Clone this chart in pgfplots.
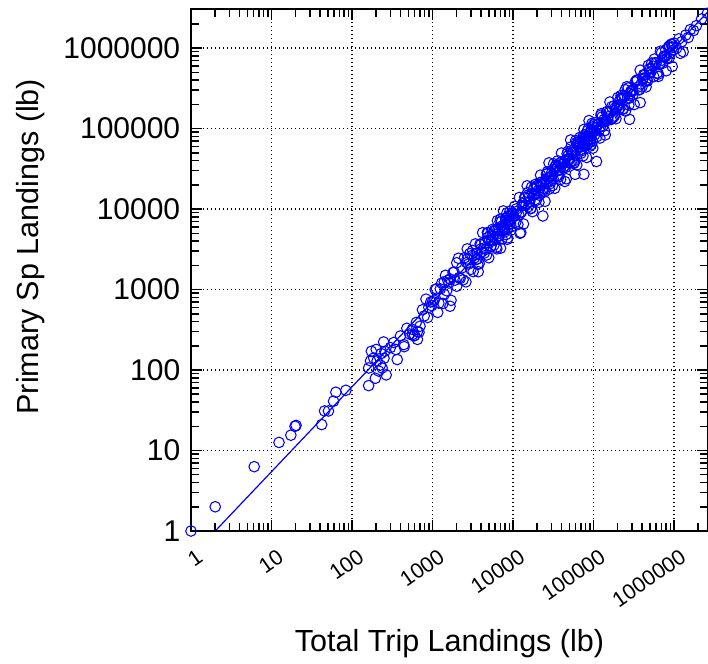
\documentclass[border=0pt]{standalone}
\usepackage{fontspec}
\setmainfont{Liberation Sans}
\usepackage{pgfplots}
\pgfplotsset{compat=1.18}

\begin{document}
\begin{tikzpicture}
\begin{axis}[
    xmode=log, ymode=log,
    scale only axis,
    width=517pt, height=521.7pt,
    xmin=1, xmax=2645000,
    ymin=1, ymax=3030000,
    clip=false,
    axis on top,
    every axis/.append style={line width=1.6pt},
    xtick={1,10,100,1000,10000,100000,1000000},
    xticklabels={1,10,100,1000,10000,100000,1000000},
    ytick={1,10,100,1000,10000,100000,1000000},
    yticklabels={1,10,100,1000,10000,100000,1000000},
    minor xtick={2,3,4,5,6,7,8,9,20,30,40,50,60,70,80,90,200,300,400,500,600,700,800,900,2000,3000,4000,5000,6000,7000,8000,9000,20000,30000,40000,50000,60000,70000,80000,90000,200000,300000,400000,500000,600000,700000,800000,900000,2000000},
    minor ytick={2,3,4,5,6,7,8,9,20,30,40,50,60,70,80,90,200,300,400,500,600,700,800,900,2000,3000,4000,5000,6000,7000,8000,9000,20000,30000,40000,50000,60000,70000,80000,90000,200000,300000,400000,500000,600000,700000,800000,900000,2000000,3000000},
    tick align=inside,
    major tick length=11pt,
    minor tick length=8pt,
    every tick/.append style={black, line width=1.5pt},
    grid=major,
    grid style={black, line width=1.3pt, dash pattern=on 1.4pt off 2.6pt},
    yticklabel style={font=\fontsize{30}{36}\selectfont, inner sep=0pt, xshift=-10pt},
    xticklabel style={font=\fontsize{21.5}{26}\selectfont, inner sep=0pt, xshift=5pt, yshift=-16pt, rotate=35, anchor=north east},
    every axis x label/.style={at={(axis description cs:0.5,-0.2314)}, anchor=base, font=\fontsize{30.5}{36}\selectfont},
    every axis y label/.style={at={(axis description cs:-0.2950,0.545)}, rotate=90, anchor=base, font=\fontsize{30.5}{36}\selectfont},
    xlabel={Total Trip Landings (lb)},
    ylabel={Primary Sp Landings (lb)},
]
% fitted line
\addplot[blue, line width=1.2pt] coordinates {(2,1) (2645000,2830000)};
% trips
\addplot[only marks, mark=o, mark size=5.3pt, mark options={draw=blue, fill=none, line width=1.05pt}] coordinates {
(1,1) (2,2) (6.1,6.3) (12.4,12.6) (17.4,15.5) (19.6,20) (20.2,20.5) (42,21) (45.6,31) (51,31) (59,41) (63,53) (84,56)
(161,64) (161,106) (174,171) (186,141) (195,79) (205,130) (215,97) (225,115) (237,106) (247,223) (256,171) (266,87) (170,130) (230,160) (200,180) (250,140)
(365,135) (400,265) (445,195) (440,207) (560,320) (562,275) (590,265) (630,390) (650,240) (680,295) (700,350) (790,470) (870,450) (830,760) (980,630) (300,190) (330,220) (350,180) (480,330) (520,280) (750,560) (900,600) (950,700) (600,270) (650,300)
(1000,710) (1080,1000) (1160,520) (1300,1200) (1400,870) (1550,1300) (1650,620) (1850,1650) (2000,1100) (2000,2150) (1650,1350) (1400,1250) (2700,3200) (3800,2100) (3600,2400) (4000,3200) (4800,5100) (6300,3200) (8500,4200) (7000,7500) (12500,5100)
(1050,735) (1120,1020) (1200,678) (1250,1018) (1350,673) (1450,1500) (1500,965) (1600,1206) (1700,734) (1800,1625) (1900,1307) (2100,2446) (2200,1365) (2300,1852) (2400,1321) (2500,2484) (2600,1245) (2700,2394) (2800,2072) (2900,2794)
(3000,1783) (3100,2652) (3200,1669) (3400,3687) (3500,2359) (3600,2835) (3700,1667) (3900,3676) (4100,2945) (4200,5087) (4400,2839) (4500,3762) (4700,2686) (4900,5048) (5000,2483) (5200,4780) (5400,4142) (5600,5598) (5800,3573) (6000,5320)
(6200,3350) (6400,7173) (6600,4597) (6800,5541) (7000,3263) (7200,7002) (7400,5476) (7600,9485) (7800,5178) (8000,6882) (8200,4815) (8400,8891) (8600,4388) (8800,8300) (9000,7083) (9200,9425) (9500,5996) (9800,8915)
(3300,2465) (4000,3624) (4600,3150) (5100,4095) (5500,4013) (5900,5452) (6300,4864) (6700,4673) (7100,6069) (7500,5843) (7900,5553) (8300,7799) (8700,6830) (9100,6446) (9400,8158) (9700,7663)
(2150,1411) (2650,2151) (3150,3051) (3650,2053) (4300,3259) (4800,4389) (5300,3451) (5700,4603) (6100,4233) (6500,5534) (6900,6961) (7300,4260) (7700,6006) (8100,7601) (8500,5664) (8900,7345) (9300,6596) (9900,8614)
(10200,8080) (10500,10800) (10800,6840) (11000,10040) (11500,6410) (12000,13920) (12500,9010) (13000,10960) (13500,6520) (14000,14100) (14500,11130) (15000,19440) (15500,10680) (16000,14310) (16500,10070) (17000,18700) (17500,9280) (18000,17650) (18500,15130) (19000,20250) (19500,12810)
(20000,18930) (21000,12130) (22000,26380) (23000,17160) (24000,20940) (25000,12480) (26000,27100) (27000,21420) (28000,37500) (29000,20680) (30000,27750) (31000,19580) (32000,36420) (33000,18130) (34000,34510) (35000,29650) (36000,39690) (37000,25160) (38000,37190) (39000,23260)
(40000,49590) (42000,32390) (44000,39690) (46000,23760) (48000,51780) (50000,41090) (52000,72130) (54000,39840) (56000,53590) (58000,37930) (60000,70710) (62000,35260) (64000,67280) (66000,57950) (68000,77700) (70000,49340) (72000,73030) (74000,45790) (76000,97530) (78000,62200)
(80000,74510) (82000,43690) (84000,93350) (86000,72710) (88000,125450) (90000,68240) (92000,90370) (94000,63030) (96000,116000) (98000,57070)
(11200,9350) (12800,9240) (14200,13750) (15800,12190) (17200,15420) (18800,13090) (20500,16890) (22500,21420) (24500,16290) (26500,27630) (28500,25080) (31500,23870) (34500,35030) (37500,30280) (41000,38610)
(45000,32900) (49000,42340) (53000,52840) (57000,39720) (61000,66640) (65000,59860) (69000,54650) (73000,77350) (77000,64740) (81000,79120) (85000,64300) (89000,79300) (93000,95510) (97000,69530) (99000,111000)
(13200,11670) (16200,12510) (19200,15740) (21500,21310) (23500,16580) (27500,24140) (29500,22300) (32500,31540) (35500,33080) (38500,31120) (43000,36890) (47000,48620)
(51000,37540) (55000,50180) (59000,46300) (63000,63390) (67000,64710) (71000,59490) (75000,66300) (79000,84090) (83000,62650) (87000,81300) (91000,73060) (95000,97780)
(11800,8470) (13800,12230) (15200,16000) (16800,10270) (18200,14890) (19800,19530) (21200,14870) (22800,19850) (24200,18100) (25500,23370) (26800,29090) (28200,17700) (30500,25650) (33500,33970) (36500,26340)
(39500,35380) (44500,34440) (48500,46040) (52500,59170) (56500,36870) (60500,52880) (65500,68930) (70500,52800) (74500,69150) (78500,62600) (82500,80590) (86500,100100) (90500,60550) (94500,84580) (97500,104800)
(12200,5000) (23500,8200) (44000,22000) (59000,27000) (76000,27000)
(102000,91600) (105000,118000) (110000,79300) (115000,114400) (120000,76100) (125000,153400) (130000,106600) (135000,129400) (140000,83300) (145000,159600) (150000,130800)
(160000,213700) (170000,133500) (180000,191700) (190000,132400) (200000,242300) (210000,196100) (220000,257400) (230000,172600) (240000,248200) (250000,164900) (260000,331300) (280000,238900)
(300000,299900) (320000,198600) (340000,390900) (360000,328300) (380000,531200) (400000,328800) (420000,468000) (450000,328400) (480000,609700) (500000,489500) (530000,650600) (560000,441300)
(600000,652100) (640000,444000) (680000,912500) (720000,646700) (760000,798000) (800000,521600) (850000,1027000) (900000,863600) (950000,1107000)
(108000,102100) (118000,96100) (128000,139800) (142000,123600) (155000,156900) (175000,137600) (195000,181400) (215000,231200) (235000,176500) (270000,319300) (290000,289300) (310000,265900)
(350000,402800) (390000,357500) (430000,458800) (470000,389900) (520000,510100) (580000,657700) (620000,491000) (700000,872400) (740000,776300) (820000,741700) (880000,1065000) (980000,945000)
(112000,111100) (122000,105100) (132000,120400) (148000,162900) (165000,129300) (185000,180300) (205000,172100) (225000,242400) (245000,253600) (265000,237900) (285000,270500)
(330000,379000) (370000,302500) (410000,416700) (440000,384900) (490000,551100) (550000,595300) (660000,622600) (780000,780800) (920000,1116000)
(103000,83200) (113000,112200) (124000,146400) (137000,93900) (152000,139700) (168000,186100) (182000,143400) (198000,193600) (212000,178200) (228000,235200) (248000,303700) (275000,195300)
(305000,290700) (345000,396600) (375000,307000) (415000,421800) (460000,403200) (510000,549800) (570000,730000) (640000,475700) (710000,707900) (790000,949900) (870000,745400) (960000,1021000)
(109000,39000) (280000,130000) (380000,210000) (950000,590000) (1200000,860000) (1300000,900000)
(1000000,1150000) (1080000,1000000) (1150000,1300000) (1250000,1200000) (1400000,1450000) (1500000,1350000) (1600000,1700000) (1750000,1650000) (1900000,1900000) (2200000,2300000) (2600000,2700000)
};
\end{axis}
\pgfresetboundingbox
\path[use as bounding box] (-191pt,-132pt) rectangle (517pt,531pt);
\end{tikzpicture}
\end{document}
